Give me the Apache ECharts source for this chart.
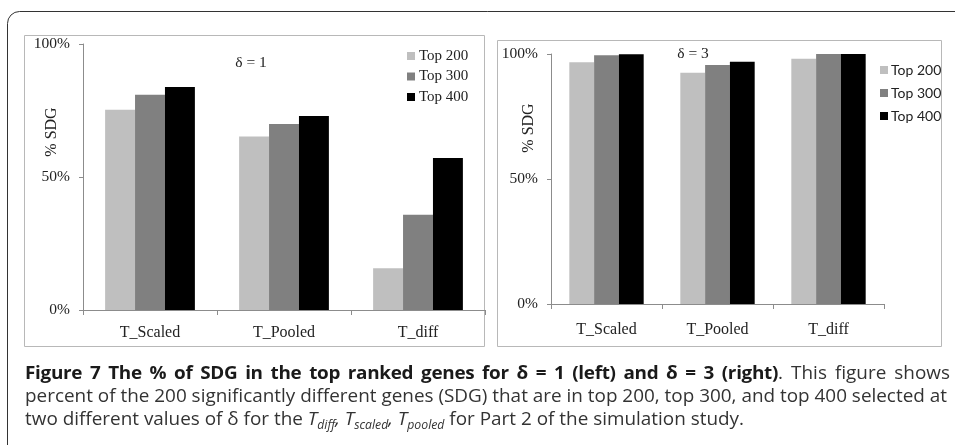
<!DOCTYPE html>
<html>
<head>
<meta charset="utf-8">
<script src="https://cdn.jsdelivr.net/npm/echarts@6/dist/echarts.min.js"></script>
<style>
  html, body { margin: 0; padding: 0; background: #fff; }
  #wrap { position: relative; width: 955px; height: 445px; overflow: hidden; }
  #chart { position: absolute; left: 0; top: 0; width: 955px; height: 445px; }
  .cap { position: absolute; left: 25px; font-family: "Open Sans", sans-serif; font-size: 18.5px;
         color: #333; white-space: nowrap; transform-origin: 0 0; line-height: 23px; }
  .cap b { color: #1a1a1a; font-weight: 700; letter-spacing: -0.3px; }
  .just { text-align: justify; text-align-last: justify; }
  .cap sub { font-size: 12px; vertical-align: -4px; line-height: 0; }
</style>
</head>
<body>
<div id="wrap">
  <div id="chart"></div>
  <div class="cap just" id="l1"><b>Figure 7 The % of SDG in the top ranked genes for δ = 1 (left) and δ = 3 (right)</b>. This figure shows</div>
  <div class="cap just" id="l2">percent of the 200 significantly different genes (SDG) that are in top 200, top 300, and top 400 selected at</div>
  <div class="cap" id="l3">two different values of δ for the <i>T</i><sub><i>diff</i></sub><i>,</i> <i>T</i><sub><i>scaled</i></sub><i>,</i> <i>T</i><sub><i>pooled</i></sub> for Part 2 of the simulation study.</div>
</div>
<script>
// ---- data ----
var categories = ['T_Scaled', 'T_Pooled', 'T_diff'];
var seriesNames = ['Top 200', 'Top 300', 'Top 400'];
var left200 = [75.3, 65.2, 15.7];
var left300 = [80.9, 69.9, 35.8];
var left400 = [83.8, 72.9, 57.1];
var right200 = [96.7, 92.5, 98.1];
var right300 = [99.5, 95.6, 100];
var right400 = [99.9, 96.9, 100];
var yTicks = [0, 50, 100];

var colors = ['#bfbfbf', '#808080', '#000000'];
var serif = 'Liberation Serif';

function yAxis(gi) {
  return {
    type: 'value', gridIndex: gi, min: yTicks[0], max: yTicks[yTicks.length - 1], interval: 50,
    axisLine: { show: true, lineStyle: { color: '#8c8c8c', width: 1 } },
    axisTick: { show: true, length: 4, lineStyle: { color: '#8c8c8c' } },
    splitLine: { show: false },
    axisLabel: { formatter: '{value}%', fontFamily: serif, fontSize: 15.5, color: '#222', margin: 13 }
  };
}
function xAxis(gi, margin) {
  return {
    type: 'category', gridIndex: gi, data: categories,
    axisLine: { show: true, lineStyle: { color: '#8c8c8c', width: 1 } },
    axisTick: { show: true, length: 5, lineStyle: { color: '#8c8c8c' } },
    axisLabel: { fontFamily: serif, fontSize: 16, color: '#222', margin: margin }
  };
}
function bar(name, data, gi, ci) {
  return {
    type: 'bar', name: name, data: data, xAxisIndex: gi, yAxisIndex: gi,
    barGap: 0, barCategoryGap: '33%', itemStyle: { color: colors[ci] },
    emphasis: { disabled: true }, animation: false
  };
}

var chart = echarts.init(document.getElementById('chart'), null, { renderer: 'canvas' });
chart.setOption({
  animation: false,
  backgroundColor: '#fff',
  grid: [
    { left: 83, right: 955 - 485, top: 44, bottom: 445 - 310 },
    { left: 551, right: 955 - 884, top: 54, bottom: 445 - 304 }
  ],
  xAxis: [xAxis(0, 15), xAxis(1, 18)],
  yAxis: [yAxis(0), yAxis(1)],
  legend: [
    { data: seriesNames, orient: 'vertical', left: 402, top: 43, itemWidth: 8, itemHeight: 8,
      itemGap: 4.5, icon: 'rect', selectedMode: false,
      textStyle: { fontFamily: serif, fontSize: 15, color: '#222', lineHeight: 16, padding: [0, 0, 0, -1] } },
    { data: seriesNames, orient: 'vertical', left: 875, top: 57, itemWidth: 8, itemHeight: 8,
      itemGap: 7, icon: 'rect', selectedMode: false,
      textStyle: { fontFamily: 'Lato', fontSize: 14, color: '#222', lineHeight: 16, padding: [0, 0, 0, -2] } }
  ],
  series: [
    bar(seriesNames[0], left200, 0, 0), bar(seriesNames[1], left300, 0, 1), bar(seriesNames[2], left400, 0, 2),
    bar(seriesNames[0], right200, 1, 0), bar(seriesNames[1], right300, 1, 1), bar(seriesNames[2], right400, 1, 2)
  ],
  graphic: [
    { type: 'rect', z: -10, shape: { x: 7.5, y: 11.5, width: 1000, height: 500, r: [12, 0, 0, 0] },
      style: { fill: 'none', stroke: '#333', lineWidth: 1 } },
    { type: 'rect', z: -5, shape: { x: 24.5, y: 35.5, width: 460, height: 311 },
      style: { fill: 'none', stroke: '#b8b8b8', lineWidth: 1 } },
    { type: 'rect', z: -5, shape: { x: 497.5, y: 40.5, width: 444, height: 306 },
      style: { fill: 'none', stroke: '#b8b8b8', lineWidth: 1 } },
    { type: 'text', x: 52, y: 132, rotation: Math.PI / 2,
      style: { text: '% SDG', fontFamily: serif, fontSize: 16, fill: '#222', align: 'center', verticalAlign: 'middle' } },
    { type: 'text', x: 529, y: 128, rotation: Math.PI / 2,
      style: { text: '% SDG', fontFamily: serif, fontSize: 16, fill: '#222', align: 'center', verticalAlign: 'middle' } },
    { type: 'text', x: 251, y: 63,
      style: { text: 'δ = 1', fontFamily: serif, fontSize: 15.5, fill: '#222', align: 'center', verticalAlign: 'middle' } },
    { type: 'text', x: 693, y: 54,
      style: { text: 'δ = 3', fontFamily: serif, fontSize: 15.5, fill: '#222', align: 'center', verticalAlign: 'middle' } }
  ]
});

// ---- caption fitting (condensed look) ----
(function () {
  var l1 = document.getElementById('l1'), l2 = document.getElementById('l2'), l3 = document.getElementById('l3');
  var w2 = l2.getBoundingClientRect().width;
  var s = 922 / w2;
  var tops = [366, 389, 412];
  [l1, l2, l3].forEach(function (el, i) {
    el.style.top = (tops[i] - 6) + 'px';
    el.style.transform = 'scaleX(' + s + ')';
  });
  l1.style.width = (925 / s) + 'px';
  l2.style.width = (922 / s) + 'px';
})();
</script>
</body>
</html>
